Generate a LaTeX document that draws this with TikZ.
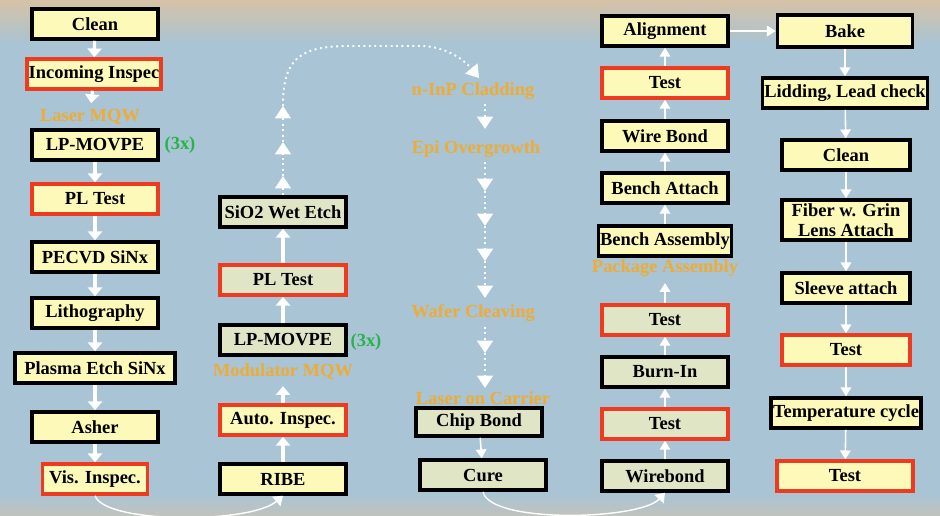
\documentclass[tikz,border=0pt]{standalone}
\usepackage{fontspec}
\setmainfont{Liberation Serif}
\usetikzlibrary{arrows.meta}

\definecolor{bgblue}{RGB}{168,196,213}
\definecolor{bgtan}{RGB}{214,194,166}
\definecolor{boxyellow}{RGB}{253,249,185}
\definecolor{boxgreen}{RGB}{224,229,198}
\definecolor{testred}{RGB}{238,58,30}
\definecolor{lblorange}{RGB}{238,172,52}
\definecolor{cntgreen}{RGB}{40,178,72}

\newcommand{\stepfont}{\bfseries\fontsize{10.5}{11}\selectfont}

\tikzset{
  stepbox/.style={draw=black, line width=2pt, fill=boxyellow,
    minimum width=2.52cm, minimum height=0.6cm, inner xsep=1pt, inner ysep=0pt,
    font=\stepfont},
  testbox/.style={stepbox, draw=testred},
  greenbox/.style={fill=boxgreen},
  flowlbl/.style={text=lblorange, font=\stepfont},
  countlbl/.style={text=cntgreen, font=\stepfont},
  flow/.style={white, line width=1.8pt, -{Triangle[width=8pt,length=5pt]}},
  thinflow/.style={white, line width=0.9pt, -{Triangle[width=6pt,length=5pt]}},
  dotflow/.style={white, line width=1.1pt, dotted, -{Triangle[width=9pt,length=7pt]}},
}

\begin{document}
\begin{tikzpicture}[x=0.02cm,y=-0.02cm]
\useasboundingbox (0,0) rectangle (940,515);
\fill[bgblue] (0,0) rectangle (940,515);
\shade[top color=bgtan, bottom color=bgblue] (0,0) rectangle (940,45);
\shade[top color=bgblue, bottom color=bgtan!50!bgblue] (0,492) rectangle (940,515);

% laser wafer
\node[stepbox] (cln) at (95,24) {Clean};
\node[testbox] (inc) at (94,74) {Incoming Inspec};
\node[flowlbl] (lmqw) at (90,117) {Laser MQW};
\node[stepbox] (lp1) at (95,145) {LP-MOVPE};
\node[countlbl] (x1) at (180,145) {(3x)};
\node[testbox] (pl1) at (95,199) {PL Test};
\node[stepbox] (pec) at (95,257) {PECVD SiNx};
\node[stepbox] (lit) at (95,313) {Lithography};
\node[stepbox,minimum width=3.2cm] (pla) at (95,368) {Plasma Etch SiNx};
\node[stepbox] (ash) at (95,427) {Asher};
\node[testbox,minimum width=2.1cm] (vis) at (95,479) {Vis. Inspec.};

\draw[flow] (cln) -- (inc);
\draw[flow] (inc) -- (lmqw);
\draw[flow] (lp1) -- (pl1);
\draw[flow] (pl1) -- (pec);
\draw[flow] (pec) -- (lit);
\draw[flow] (lit) -- (pla);
\draw[flow] (pla) -- (ash);
\draw[flow] (ash) -- (vis);

% modulator
\node[stepbox] (ribe) at (283,479) {RIBE};
\node[testbox] (auto) at (283,420) {Auto. Inspec.};
\node[flowlbl] (mmqw) at (283,372) {Modulator MQW};
\node[stepbox,greenbox] (lp2) at (283,340) {LP-MOVPE};
\node[countlbl] (x2) at (366,342) {(3x)};
\node[testbox,greenbox] (pl2) at (283,280) {PL Test};
\node[stepbox,greenbox] (wet) at (283,212) {SiO2 Wet Etch};

\draw[thick,white,-{Triangle[width=7pt,length=5pt]}] (vis.south) .. controls (105,524) and (250,524) .. (ribe.south);
\draw[flow] (ribe) -- (auto);
\draw[flow] (auto) -- (mmqw);
\draw[flow] (lp2) -- (pl2);
\draw[flow] (pl2) -- (wet);

\coordinate (u1) at (283,176);
\coordinate (u2) at (283,142);
\coordinate (u3) at (283,106);
\coordinate (cin) at (479,78);
\draw[dotflow] (wet) -- (u1);
\draw[dotflow] (u1) -- (u2);
\draw[dotflow] (u2) -- (u3);
\draw[dotflow] (u3) .. controls (283,58) and (300,46) .. (350,46) -- (420,46) .. controls (448,46) and (466,62) .. (cin);

% chip
\node[flowlbl] (clad) at (473,91) {n-InP Cladding};
\node[flowlbl] (epi) at (476,149) {Epi Overgrowth};
\node[flowlbl] (wafer) at (473,313) {Wafer Cleaving};
\node[flowlbl] (carr) at (483,398) {Laser on Carrier};
\node[stepbox,greenbox,minimum height=0.56cm] (chip) at (479,422) {Chip Bond};
\node[stepbox,greenbox] (cure) at (483,475) {Cure};

\coordinate (d0) at (485,104);
\coordinate (d1) at (485,129);
\coordinate (d2) at (485,162);
\coordinate (d3) at (485,191);
\coordinate (d4) at (485,226);
\coordinate (d5) at (485,261);
\coordinate (d6) at (485,298);
\coordinate (d7) at (485,327);
\coordinate (d8) at (485,353);
\coordinate (d9) at (485,388);
\draw[dotflow] (d0) -- (d1);
\draw[dotflow] (d2) -- (d3);
\draw[dotflow] (d3) -- (d4);
\draw[dotflow] (d4) -- (d5);
\draw[dotflow] (d5) -- (d6);
\draw[dotflow] (d7) -- (d8);
\draw[dotflow] (d8) -- (d9);
\draw[thinflow] (chip) -- (cure);

% package
\node[stepbox,greenbox] (wire) at (665,476) {Wirebond};
\node[testbox,greenbox] (t2) at (665,424) {Test};
\node[stepbox,greenbox] (burn) at (665,372) {Burn-In};
\node[testbox,greenbox] (t1) at (665,320) {Test};
\node[flowlbl] (pkg) at (665,268) {Package Assembly};
\node[stepbox] (bass) at (665,241) {Bench Assembly};
\node[stepbox] (batt) at (665,188) {Bench Attach};
\node[stepbox] (wb) at (665,136) {Wire Bond};
\node[testbox] (t0) at (665,83) {Test};
\node[stepbox] (align) at (665,31) {Alignment};

\coordinate (pk) at (665,283);
\draw[thick,white,-{Triangle[width=7pt,length=5pt]}] (cure.south) .. controls (490,524) and (640,520) .. (wire.south);
\draw[thinflow] (wire) -- (t2);
\draw[thinflow] (t2) -- (burn);
\draw[thinflow] (burn) -- (t1);
\draw[thinflow] (t1) -- (pk);
\draw[thinflow] (bass) -- (batt);
\draw[thinflow] (batt) -- (wb);
\draw[thinflow] (wb) -- (t0);
\draw[thinflow] (t0) -- (align);

% final
\node[stepbox,minimum width=2.7cm,minimum height=0.64cm] (bake) at (845,31) {Bake};
\node[stepbox] (lid) at (845,93) {Lidding, Lead check};
\node[stepbox,minimum width=2.57cm] (cln2) at (846,155) {Clean};
\node[stepbox,minimum width=2.57cm,minimum height=0.8cm,align=center,
  font=\bfseries\fontsize{10.5}{11.5}\selectfont] (fib) at (846,220) {Fiber w. Grin\\Lens Attach};
\node[stepbox,minimum width=2.57cm] (slv) at (846,288) {Sleeve attach};
\node[testbox,minimum width=2.57cm] (t3) at (846,350) {Test};
\node[stepbox] (tmp) at (846,413) {Temperature cycle};
\node[testbox,minimum width=2.72cm] (t4) at (845,476) {Test};

\draw[thinflow] (align) -- (bake);
\draw[thinflow] (bake) -- (lid);
\draw[thinflow] (lid) -- (cln2);
\draw[thinflow] (cln2) -- (fib);
\draw[thinflow] (fib) -- (slv);
\draw[thinflow] (slv) -- (t3);
\draw[thinflow] (t3) -- (tmp);
\draw[thinflow] (tmp) -- (t4);
\end{tikzpicture}
\end{document}
